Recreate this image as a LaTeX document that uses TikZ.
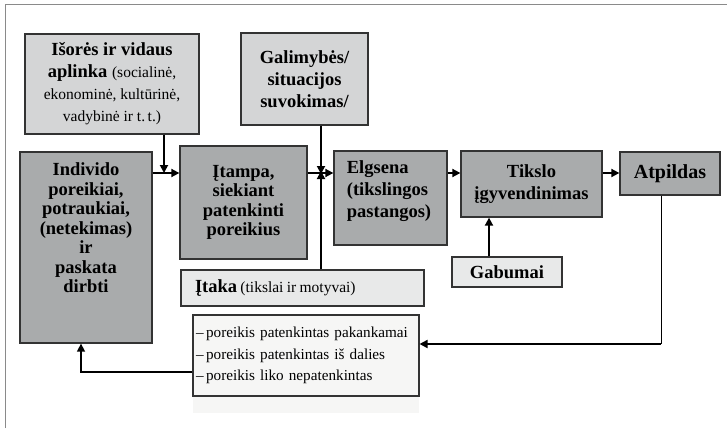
\documentclass[tikz,border=0pt]{standalone}
\usepackage{fontspec}
\setmainfont{Liberation Serif}
\usetikzlibrary{arrows.meta}

\definecolor{boxdark}{HTML}{A9ABAC}
\definecolor{boxlight}{HTML}{D4D5D6}
\definecolor{boxpale}{HTML}{E8E9E9}
\definecolor{listfill}{HTML}{F6F6F5}
\definecolor{framegray}{HTML}{8A8A8A}

\newcommand{\bigbf}{\bfseries\fontsize{18.5}{19.5}\selectfont}
\newcommand{\smallrm}{\mdseries\fontsize{15.5}{21.5}\selectfont}

\tikzset{
  box/.style={draw=black!80, line width=1.3pt, inner sep=0pt, align=center},
  darkbox/.style={box, fill=boxdark, font=\bigbf},
  lightbox/.style={box, fill=boxlight},
  palebox/.style={box, fill=boxpale},
  flow/.style={line width=1.8pt, -{Triangle[length=8pt,width=8pt]}},
}

\begin{document}
\begin{tikzpicture}[x=1pt,y=-1pt]
\useasboundingbox (0,0) rectangle (727,428);
\draw[framegray, line width=1pt] (5.5,428) -- (5.5,5) -- (727,5);

% boxes
\node[lightbox, minimum width=174pt, minimum height=100pt, font=\bfseries\fontsize{18.5}{22}\selectfont] (isores) at (112,84)
  {Išorės ir vidaus\\
   aplinka {\smallrm(socialinė,}\\
   {\smallrm ekonominė, kultūrinė,}\\
   {\smallrm vadybinė ir t.\,t.)}};
\node[lightbox, minimum width=127pt, minimum height=92pt, font=\bfseries\fontsize{18.5}{22}\selectfont] (galim) at (304.5,79)
  {Galimybės/\\situacijos\\suvokimas/};
\node[darkbox, minimum width=132pt, minimum height=191pt] (indiv) at (86,247.5) {};
\node[font=\bigbf, align=center] (indivtxt) at (86,228)
  {Individo\\poreikiai,\\potraukiai,\\(netekimas)\\ir\\paskata\\dirbti};
\node[darkbox, minimum width=127pt, minimum height=113pt] (itampa) at (243.5,202.5)
  {Įtampa,\\siekiant\\patenkinti\\poreikius};
\node[darkbox, minimum width=113pt, minimum height=94pt] (elgsena) at (390.5,198) {};
\node[font=\bfseries\fontsize{18.5}{22}\selectfont, align=left] (elgtxt) at (389,191)
  {Elgsena\\(tikslingos\\pastangos)};
\node[darkbox, minimum width=141pt, minimum height=66pt, font=\bfseries\fontsize{18.5}{22}\selectfont] (tikslo) at (531.5,184)
  {Tikslo\\įgyvendinimas};
\node[darkbox, minimum width=100pt, minimum height=43pt, font=\bfseries\fontsize{20}{22}\selectfont] (atpildas) at (670,173.5) {Atpildas};
\node[palebox, minimum width=110pt, minimum height=30pt, font=\bigbf] (gabumai) at (507,272) {Gabumai};
\node[palebox, text width=215pt, inner xsep=14pt, minimum height=36pt, align=left] (itaka) at (302.5,288)
  {\textbf{\fontsize{18.5}{19}\selectfont Įtaka} {\smallrm(tikslai ir motyvai)}};

% list of outcomes
\fill[listfill] (193,315) rectangle (419,413);
\node[box, line width=1.1pt, fill=listfill, text width=220pt, inner xsep=3pt, minimum height=81pt, align=left, font=\fontsize{15.2}{21.5}\selectfont] (list) at (306,355.5)
  {--\,poreikis patenkintas pakankamai\\
   --\,poreikis patenkintas iš dalies\\
   --\,poreikis liko nepatenkintas};

% connectors
\coordinate (j1) at (164,173);
\coordinate (j2) at (321,173);
\coordinate (gx) at (489,272);
\coordinate (ret) at (661,344);
\coordinate (fb) at (81,372);

\draw[flow] (indiv.east |- j1) -- (itampa.west |- j1);
\draw[flow] (isores.south -| j1) -- (j1);
\draw[flow] (itampa.east |- j2) -- (elgsena.west |- j2);
\draw[flow] (galim.south -| j2) -- ([yshift=-1pt]j2);
\draw[flow] (itaka.north -| j2) -- ([yshift=2pt]j2);
\draw[flow] (elgsena.east |- j2) -- (tikslo.west |- j2);
\draw[flow] (tikslo.east |- j2) -- (atpildas.west |- j2);
\draw[flow] (gabumai.north -| gx) -- (tikslo.south -| gx);
\draw[line width=1pt] (atpildas.south -| ret) -- (ret);
\draw[flow] (ret) -- (list.east |- ret);
\draw[flow, line width=1.5pt] (list.west |- fb) -| (indiv.south -| fb);
\end{tikzpicture}
\end{document}
